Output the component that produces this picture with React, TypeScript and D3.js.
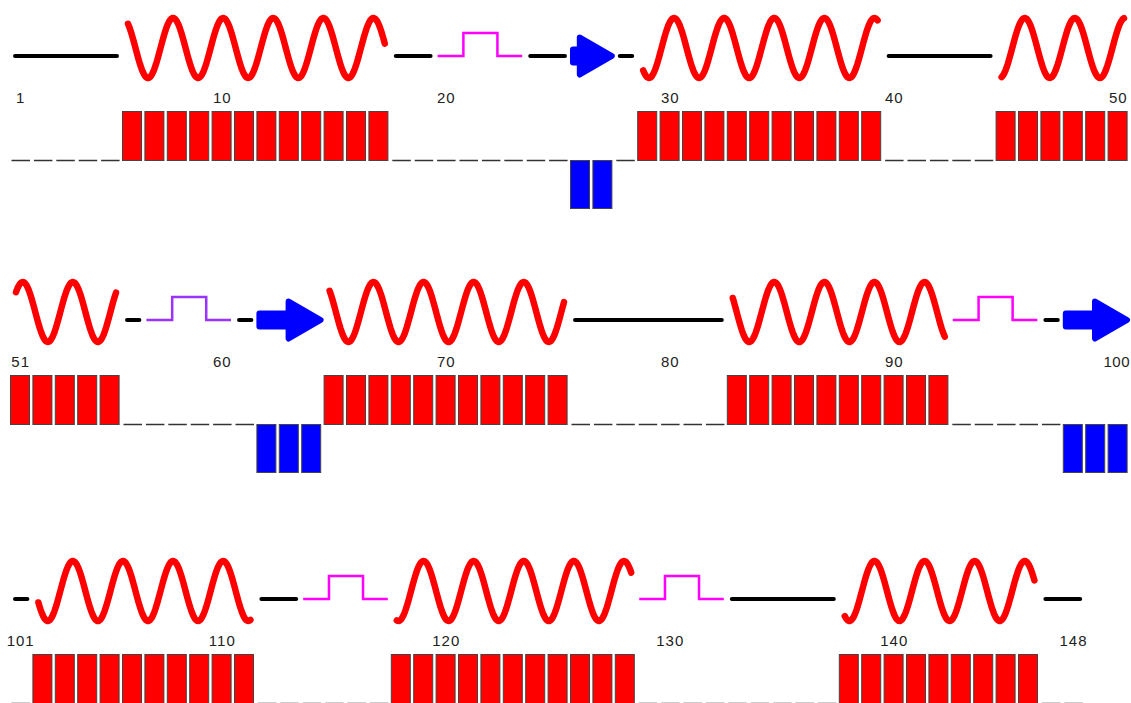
import React, { useEffect, useRef } from 'react'
import * as d3 from 'd3'

// secondary structure of the chain, residue ranges (inclusive)
const residueCount = 148
const residuesPerRow = 50
const helices = [[6, 17], [29, 39], [45, 55], [65, 75], [83, 92], [102, 111], [118, 128], [138, 146]]
const strands = [[26, 27], [62, 64], [98, 100]]
const turns = [[20, 23], [57, 60], [93, 96], [114, 117], [129, 132]]
const turnKinds = ['turn', 'bend', 'turn', 'turn', 'turn']
const tickResidues = [1, 10, 20, 30, 40, 50, 51, 60, 70, 80, 90, 100, 101, 110, 120, 130, 140, 148]

const width = 1131
const height = 703
const rowLines = [56, 320, 599]
const turnColor = { turn: '#ff00ff', bend: '#9933ff' }

const buildTypes = () => {
  const types = d3.range(residueCount + 1).map(() => 'C')
  helices.forEach(([a, b]) => d3.range(a, b + 1).forEach((i) => (types[i] = 'H')))
  strands.forEach(([a, b]) => d3.range(a, b + 1).forEach((i) => (types[i] = 'E')))
  turns.forEach(([a, b], k) => d3.range(a, b + 1).forEach((i) => (types[i] = turnKinds[k])))
  return types
}

// group consecutive residues of the same type inside one row
const rowRuns = (types, row) => {
  const first = row * residuesPerRow + 1
  const last = Math.min(first + residuesPerRow - 1, residueCount)
  const runs = []
  let start = first
  for (let i = first + 1; i <= last + 1; i++) {
    if (i > last || types[i] !== types[start]) {
      runs.push({ type: types[start], a: start, b: i - 1 })
      start = i
    }
  }
  return runs
}

const drawCartoon = (g, x, pos, runs, lineY) => {
  const helixY = lineY - 8
  const amp = 30
  const period = 50.1

  runs.forEach(({ type, a, b }) => {
    const x0 = x(pos(a))
    const x1 = x(pos(b) + 1)

    if (type === 'H') {
      const xs = d3.range(x0 + 6, x1 - 6, 1).concat([x1 - 6])
      const line = d3
        .line()
        .x((d) => d)
        .y((d) => helixY + amp * Math.cos((2 * Math.PI * (d - 148)) / period))
      g.append('path')
        .attr('d', line(xs))
        .attr('fill', 'none')
        .attr('stroke', '#ff0000')
        .attr('stroke-width', 6.5)
        .attr('stroke-linecap', 'round')
        .attr('stroke-linejoin', 'round')
    } else if (type === 'E') {
      const xs = x0 + 3
      const tip = x1 - 3
      const hx = Math.max(xs, tip - 32)
      const p = d3.path()
      p.moveTo(xs, lineY - 6.5)
      p.lineTo(hx, lineY - 6.5)
      p.lineTo(hx, lineY - 18.5)
      p.lineTo(tip, lineY)
      p.lineTo(hx, lineY + 18.5)
      p.lineTo(hx, lineY + 6.5)
      p.lineTo(xs, lineY + 6.5)
      p.closePath()
      g.append('path')
        .attr('d', p.toString())
        .attr('fill', '#0000ff')
        .attr('stroke', '#0000ff')
        .attr('stroke-width', 6)
        .attr('stroke-linejoin', 'round')
    } else if (type === 'C') {
      g.append('line')
        .attr('x1', x0 + 5)
        .attr('x2', x1 - 5)
        .attr('y1', lineY)
        .attr('y2', lineY)
        .attr('stroke', '#000')
        .attr('stroke-width', 4)
        .attr('stroke-linecap', 'round')
    } else {
      const w = x1 - x0
      const p = d3.path()
      p.moveTo(x0 + 2, lineY)
      p.lineTo(x0 + 0.31 * w, lineY)
      p.lineTo(x0 + 0.31 * w, lineY - 23)
      p.lineTo(x0 + 0.69 * w, lineY - 23)
      p.lineTo(x0 + 0.69 * w, lineY)
      p.lineTo(x1 - 3, lineY)
      g.append('path')
        .attr('d', p.toString())
        .attr('fill', 'none')
        .attr('stroke', turnColor[type])
        .attr('stroke-width', 2.5)
    }
  })
}

const drawBoxes = (g, x, pos, types, row, lineY) => {
  const first = row * residuesPerRow + 1
  const last = Math.min(first + residuesPerRow - 1, residueCount)
  const cells = d3.range(first, last + 1)
  const midY = lineY + 104.5

  g.selectAll('rect.h')
    .data(cells.filter((i) => types[i] === 'H'))
    .enter()
    .append('rect')
    .attr('x', (i) => x(pos(i)) + 0.5)
    .attr('y', midY - 49)
    .attr('width', 19)
    .attr('height', 49)
    .attr('fill', '#ff0000')
    .attr('stroke', '#444')
    .attr('stroke-width', 1)

  g.selectAll('rect.e')
    .data(cells.filter((i) => types[i] === 'E'))
    .enter()
    .append('rect')
    .attr('x', (i) => x(pos(i)) + 0.5)
    .attr('y', midY)
    .attr('width', 19)
    .attr('height', 48)
    .attr('fill', '#0000ff')
    .attr('stroke', '#444')
    .attr('stroke-width', 1)

  g.selectAll('line.c')
    .data(cells.filter((i) => types[i] !== 'H' && types[i] !== 'E'))
    .enter()
    .append('line')
    .attr('x1', (i) => x(pos(i)) + 1.5)
    .attr('x2', (i) => x(pos(i)) + 20)
    .attr('y1', midY)
    .attr('y2', midY)
    .attr('stroke', '#333')
    .attr('stroke-width', 1.5)
}

const App = () => {
  const ref = useRef(null)

  useEffect(() => {
    const svg = d3.select(ref.current)
    svg.selectAll('*').remove()

    const types = buildTypes()
    const x = d3.scaleLinear().domain([0, residuesPerRow]).range([10, 1130])
    const pos = (res) => (res - 1) % residuesPerRow
    const rowOf = (res) => Math.floor((res - 1) / residuesPerRow)

    rowLines.forEach((lineY, row) => {
      const g = svg.append('g')
      drawBoxes(g, x, pos, types, row, lineY)
      drawCartoon(g, x, pos, rowRuns(types, row), lineY)
    })

    // residue numbers: centred on the residue, kept inside the right edge
    const labels = svg
      .append('g')
      .attr('font-family', '"Liberation Sans", Arial, sans-serif')
      .attr('font-size', 15)
      .attr('letter-spacing', 1)
      .attr('fill', '#222')

    labels
      .selectAll('text')
      .data(tickResidues)
      .enter()
      .append('text')
      .text((d) => d)
      .attr('y', (d) => rowLines[rowOf(d)] + 47)
      .each(function (d) {
        const t = d3.select(this)
        const cx = x(pos(d) + 0.5) - 0.5
        const w = String(d).length * 9.3
        if (cx + w / 2 > width - 1) {
          t.attr('x', width - 1).attr('text-anchor', 'end').attr('letter-spacing', 0.5)
        } else {
          t.attr('x', cx).attr('text-anchor', 'middle')
        }
      })
  }, [])

  return (
    <svg
      ref={ref}
      width={width}
      height={height}
      style={{ position: 'absolute', left: 0, top: 0, display: 'block', background: '#fff' }}
    />
  )
}

export default App
